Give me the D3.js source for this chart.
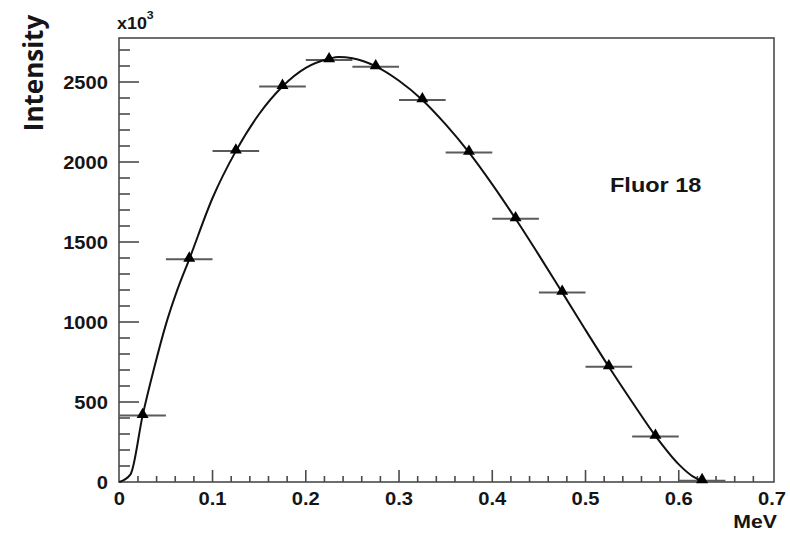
<!DOCTYPE html>
<html>
<head>
<meta charset="utf-8">
<script src="https://cdn.jsdelivr.net/npm/d3@7"></script>
<style>
  html, body { margin: 0; padding: 0; background: #fff; }
  svg { display: block; }
  text { font-family: "Liberation Sans", Arial, sans-serif; font-weight: bold; fill: #151515; }
</style>
</head>
<body>
<svg id="chart" width="790" height="534"></svg>
<script>
// Measured spectrum: bin centres (MeV) and counts (x10^3)
const binCenters = [0.025, 0.075, 0.125, 0.175, 0.225, 0.275, 0.325, 0.375, 0.425, 0.475, 0.525, 0.575, 0.625];
const binCounts  = [415, 1392, 2068, 2472, 2638, 2595, 2388, 2060, 1645, 1185, 720, 285, 8];
const binHalfWidth = 0.025;

// Fitted spectrum shape
const fitEnergy = [0, 0.012, 0.025, 0.0375, 0.05, 0.0625, 0.075, 0.1, 0.125, 0.15, 0.175, 0.2, 0.225, 0.235, 0.25, 0.275, 0.3, 0.325, 0.35, 0.375, 0.4, 0.425, 0.45, 0.475, 0.5, 0.525, 0.55, 0.575, 0.6, 0.615, 0.628];
const fitCounts  = [0, 48, 415, 715, 985, 1205, 1392, 1775, 2068, 2300, 2472, 2588, 2645, 2656, 2648, 2598, 2508, 2388, 2235, 2060, 1860, 1645, 1418, 1185, 950, 720, 500, 288, 110, 35, 0];

// Axis ticks
const xMajorTicks = [0, 0.1, 0.2, 0.3, 0.4, 0.5, 0.6, 0.7];
const xTickLabels = ["0", "0.1", "0.2", "0.3", "0.4", "0.5", "0.6", "0.7"];
const yMajorTicks = [0, 500, 1000, 1500, 2000, 2500];
const yTickLabels = ["0", "500", "1000", "1500", "2000", "2500"];

const svg = d3.select("#chart");
const frame = { left: 119, right: 774, top: 38, bottom: 482 };

const x = d3.scaleLinear().domain([0, 0.7]).range([frame.left + 0.3, 772]);
const y = d3.scaleLinear().domain([0, 2775]).range([frame.bottom, frame.top]);

const frameColor = "#4a4a4a";

// Minor/major ticks pointing into the frame
const xMinor = d3.range(0, 0.7001, 0.02).filter(v => !xMajorTicks.some(m => Math.abs(m - v) < 1e-6));
const yMinor = d3.range(0, 2750, 100).filter(v => v % 500 !== 0);

const ticks = svg.append("g").attr("stroke", frameColor).attr("stroke-width", 1.6);
ticks.append("g").selectAll("line").data(xMinor).join("line")
  .attr("x1", d => x(d)).attr("x2", d => x(d))
  .attr("y1", frame.bottom).attr("y2", frame.bottom - 6);
ticks.append("g").selectAll("line").data(xMajorTicks.slice(1, -1)).join("line")
  .attr("x1", d => x(d)).attr("x2", d => x(d))
  .attr("y1", frame.bottom).attr("y2", frame.bottom - 12);
ticks.append("g").selectAll("line").data(yMinor).join("line")
  .attr("x1", frame.left).attr("x2", frame.left + 11)
  .attr("y1", d => y(d)).attr("y2", d => y(d));
ticks.append("g").selectAll("line").data(yMajorTicks.slice(1)).join("line")
  .attr("x1", frame.left).attr("x2", frame.left + 20)
  .attr("y1", d => y(d)).attr("y2", d => y(d));

// Frame
svg.append("rect")
  .attr("x", frame.left).attr("y", frame.top)
  .attr("width", frame.right - frame.left).attr("height", frame.bottom - frame.top)
  .attr("fill", "none").attr("stroke", frameColor).attr("stroke-width", 1.6);

// Tick labels (font slightly widened)
const stretch = 1.12;
svg.append("g").selectAll("text").data(xMajorTicks).join("text")
  .attr("transform", d => `translate(${x(d)},${505}) scale(${stretch},1)`)
  .attr("text-anchor", "middle")
  .attr("font-size", 18)
  .text((d, i) => xTickLabels[i]);

svg.append("g").selectAll("text").data(yMajorTicks).join("text")
  .attr("transform", d => `translate(${108},${y(d) + 7}) scale(${stretch},1)`)
  .attr("text-anchor", "end")
  .attr("font-size", 18)
  .text((d, i) => yTickLabels[i]);

// Exponent marker and axis titles
const expo = svg.append("text")
  .attr("transform", `translate(117,29) scale(${stretch},1)`)
  .attr("font-size", 16);
expo.append("tspan").text("x10");
expo.append("tspan").attr("dy", -10).attr("font-size", 11).text("3");

svg.append("text")
  .attr("transform", `translate(777,528) scale(${stretch},1)`)
  .attr("text-anchor", "end")
  .attr("font-size", 19)
  .text("MeV");

svg.append("text")
  .attr("transform", "translate(43,73) rotate(-90)")
  .attr("text-anchor", "middle")
  .style("font-family", "'Open Sans', sans-serif")
  .attr("font-size", 26)
  .attr("fill", "#000")
  .text("Intensity");

svg.append("text")
  .attr("transform", `translate(610,192) scale(1.12,1)`)
  .attr("font-size", 21)
  .text("Fluor 18");

// Horizontal bin-width bars
svg.append("g").attr("stroke", "#5a5a5a").attr("stroke-width", 2)
  .selectAll("line").data(binCenters).join("line")
  .attr("x1", d => x(d - binHalfWidth)).attr("x2", d => x(d + binHalfWidth))
  .attr("y1", (d, i) => y(binCounts[i])).attr("y2", (d, i) => y(binCounts[i]));

// Fit curve
const line = d3.line()
  .x(d => x(d[0])).y(d => y(d[1]))
  .curve(d3.curveMonotoneX);
svg.append("path")
  .datum(fitEnergy.map((e, i) => [e, fitCounts[i]]))
  .attr("d", line)
  .attr("fill", "none")
  .attr("stroke", "#111")
  .attr("stroke-width", 2);

// Triangle markers
const tri = d3.symbol().type(d3.symbolTriangle).size(62);
svg.append("g").selectAll("path").data(binCenters).join("path")
  .attr("transform", (d, i) => `translate(${x(d)},${y(binCounts[i]) - 1})`)
  .attr("d", tri)
  .attr("fill", "#000");
</script>
</body>
</html>
